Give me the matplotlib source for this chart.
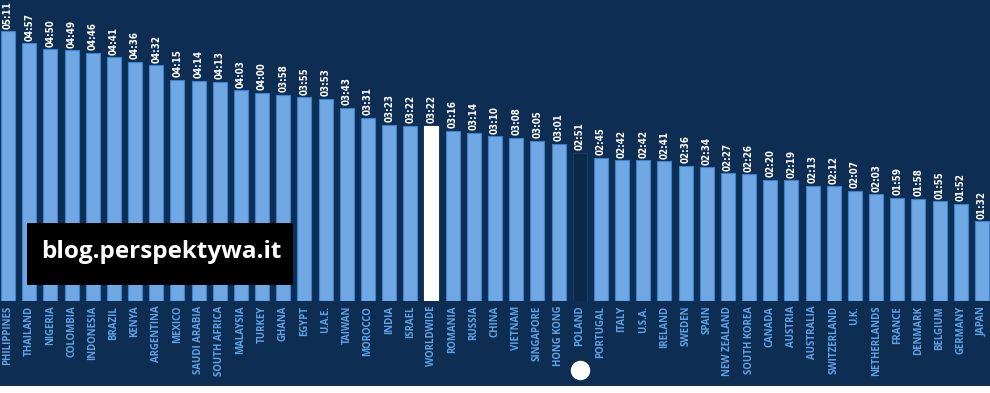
import matplotlib.pyplot as plt
import matplotlib.transforms as mtransforms
from matplotlib.patches import Rectangle

kraje = ['PHILIPPINES', 'THAILAND', 'NIGERIA', 'COLOMBIA', 'INDONESIA', 'BRAZIL',
         'KENYA', 'ARGENTINA', 'MEXICO', 'SAUDI ARABIA', 'SOUTH AFRICA', 'MALAYSIA',
         'TURKEY', 'GHANA', 'EGYPT', 'U.A.E.', 'TAIWAN', 'MOROCCO', 'INDIA', 'ISRAEL',
         'WORLDWIDE', 'ROMANIA', 'RUSSIA', 'CHINA', 'VIETNAM', 'SINGAPORE', 'HONG KONG',
         'POLAND', 'PORTUGAL', 'ITALY', 'U.S.A.', 'IRELAND', 'SWEDEN', 'SPAIN',
         'NEW ZEALAND', 'SOUTH KOREA', 'CANADA', 'AUSTRIA', 'AUSTRALIA', 'SWITZERLAND',
         'U.K.', 'NETHERLANDS', 'FRANCE', 'DENMARK', 'BELGIUM', 'GERMANY', 'JAPAN']
czasy = ['05:11', '04:57', '04:50', '04:49', '04:46', '04:41', '04:36', '04:32',
         '04:15', '04:14', '04:13', '04:03', '04:00', '03:58', '03:55', '03:53',
         '03:43', '03:31', '03:23', '03:22', '03:22', '03:16', '03:14', '03:10',
         '03:08', '03:05', '03:01', '02:51', '02:45', '02:42', '02:42', '02:41',
         '02:36', '02:34', '02:27', '02:26', '02:20', '02:19', '02:13', '02:12',
         '02:07', '02:03', '01:59', '01:58', '01:55', '01:52', '01:32']

minuty = [int(t[:2]) * 60 + int(t[3:]) for t in czasy]

TLO = '#0d2e52'
SLUPEK = '#6fa8e2'
KRAWEDZ = '#3d82d0'
NAPIS = '#62a2e6'

fig = plt.figure(figsize=(9.9, 3.93), dpi=100, facecolor=TLO)
fig.patches.append(Rectangle((0, 0), 1, 7 / 393, transform=fig.transFigure,
                             facecolor='white', edgecolor='none'))
ax = fig.add_axes([0, 92 / 393, 1, 301 / 393])
ax.set_facecolor(TLO)

kolory = []
krawedzie = []
for k in kraje:
    if k == 'WORLDWIDE':
        kolory.append('white')
        krawedzie.append('white')
    elif k == 'POLAND':
        kolory.append('#0b2948')
        krawedzie.append('#173d66')
    else:
        kolory.append(SLUPEK)
        krawedzie.append(KRAWEDZ)

x = list(range(len(kraje)))
ax.bar(x, minuty, width=0.66, color=kolory, edgecolor=krawedzie, linewidth=0.8)

ax.set_xlim(-0.378, 46.378)
ax.set_ylim(0, 347)
ax.axis('off')

for i, (m, t) in enumerate(zip(minuty, czasy)):
    ax.annotate(t, (i, m), xytext=(0, 1.8), textcoords='offset points',
                ha='center', va='bottom', rotation=90, color='white',
                fontsize=7, fontweight='bold', family='DejaVu Sans',
                fontstretch='condensed', annotation_clip=False)
    ax.annotate(kraje[i], (i, 0), xytext=(0, -3.5), textcoords='offset points',
                ha='center', va='top', rotation=90, color=NAPIS,
                fontsize=6.9, fontweight='bold', family=['Open Sans', 'DejaVu Sans'],
                annotation_clip=False)

# kropka pod Polska
tr = mtransforms.blended_transform_factory(ax.transData, fig.transFigure)
ax.plot([kraje.index('POLAND')], [23 / 393], 'o', color='white', markersize=13,
        transform=tr, clip_on=False)

# znak wodny
fig.patches.append(Rectangle((27 / 990, 108 / 393), 266 / 990, 62 / 393,
                             transform=fig.transFigure, facecolor='black',
                             edgecolor='none', zorder=5))
fig.text(161 / 990, 141 / 393, 'blog.perspektywa.it', color='white', fontsize=17.5,
         ha='center', va='center', family=['Open Sans', 'DejaVu Sans'],
         fontweight='bold', zorder=6)

fig.savefig('out.png', dpi=100, facecolor=fig.get_facecolor())
